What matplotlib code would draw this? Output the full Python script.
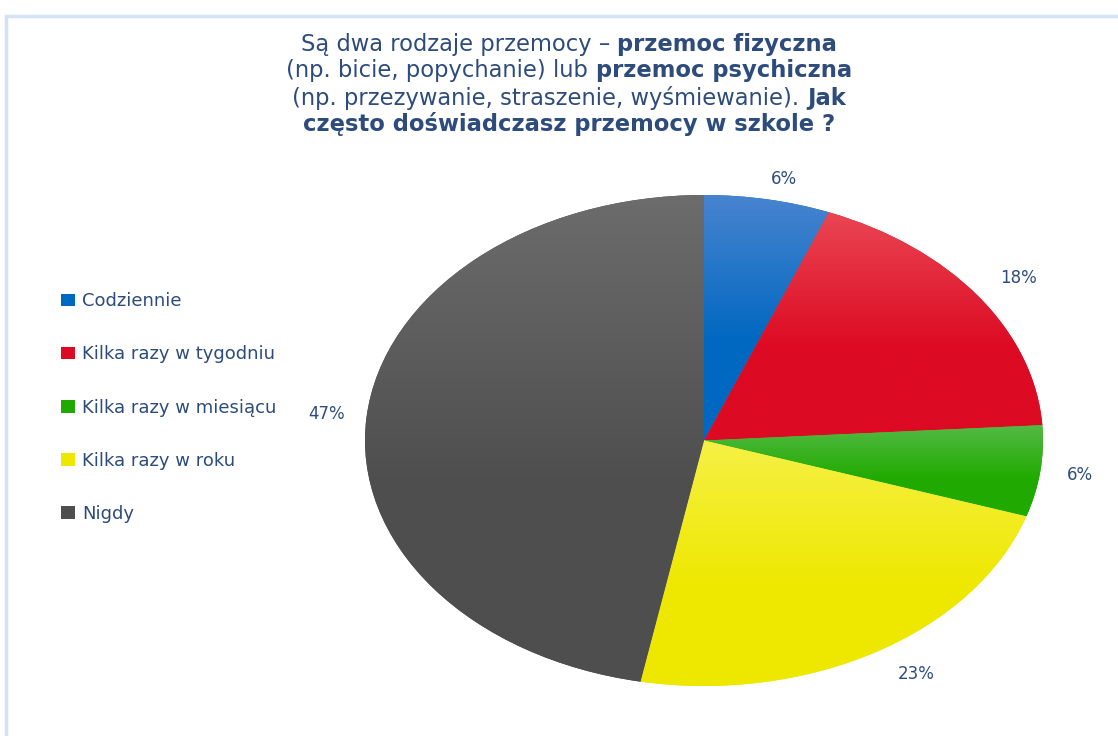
import numpy as np
import matplotlib
matplotlib.use("Agg")
import matplotlib.pyplot as plt
from matplotlib.patches import Rectangle, Patch

# data
categories = ["Codziennie", "Kilka razy w tygodniu", "Kilka razy w miesiącu",
              "Kilka razy w roku", "Nigdy"]
values = [6, 18, 6, 23, 47]
base_colors = ["#0068c0", "#dc0a22", "#20aa00", "#eee800", "#4e4e4e"]
top_colors = ["#4884d0", "#ea4654", "#54ba46", "#f6f046", "#6c6c6c"]

title_lines = [
    [("Są dwa rodzaje przemocy – ", "normal"), ("przemoc fizyczna", "bold")],
    [("(np. bicie, popychanie) lub ", "normal"), ("przemoc psychiczna", "bold")],
    [("(np. przezywanie, straszenie, wyśmiewanie). ", "normal"), ("Jak", "bold")],
    [("często doświadczasz przemocy w szkole ?", "bold")],
]

TXT = "#2d4c7c"
plt.rcParams['font.family'] = ['DejaVu Sans']

fig = plt.figure(figsize=(11.18, 7.36), dpi=100)
W, H = 1118, 736

# light frame around chart area
fig.patches.append(Rectangle((6 / W, -0.1), 1.2, 1 - 16 / H + 0.1, transform=fig.transFigure,
                             fill=False, edgecolor="#d3e2f4", linewidth=2.5))

# pie axes placed on the (stretched) ellipse
ax = fig.add_axes([365 / W, 50 / H, 678 / W, 491 / H])
wedges, texts = ax.pie(values, colors=base_colors, startangle=90, counterclock=False,
                       radius=1.0, wedgeprops=dict(linewidth=0))

def rgb(h):
    return np.array(matplotlib.colors.to_rgb(h))

# vertical gradient inside each slice (lighter at the top)
for w, c_top, c_bot in zip(wedges, top_colors, base_colors):
    ext = w.get_path().get_extents()
    t = np.linspace(0, 1, 200)[:, None]
    t = np.clip(t / 0.6, 0, 1)
    grad = (1 - t) * rgb(c_top) + t * rgb(c_bot)
    img = ax.imshow(grad[:, None, :], extent=(ext.x0, ext.x1, ext.y0, ext.y1),
                    origin="upper", aspect="auto", zorder=2, interpolation="bilinear")
    img.set_clip_path(w)

# percent labels just outside the rim
cum = np.cumsum([0] + values[:-1])
total = float(sum(values))
for v, c0 in zip(values, cum):
    ang = np.deg2rad(90 - (c0 + v / 2) / total * 360)
    c, s = np.cos(ang), np.sin(ang)
    dx = 40 * c / max(abs(c), 0.45)
    dy = 0.75 * (24 + 20 * abs(c)) * s
    ax.annotate(f"{v / total * 100:.0f}%", (c, s), xytext=(dx, dy),
                textcoords="offset pixels", ha="center", va="center",
                color=TXT, fontsize=12, zorder=5)

ax.set_aspect("auto")
ax.set_xlim(-1, 1)
ax.set_ylim(-1, 1)
ax.axis("off")

# legend on the left
handles = [Patch(facecolor=c, edgecolor="none") for c in base_colors]
leg = fig.legend(handles, categories, loc="upper left", bbox_to_anchor=(45 / W, 1 - 276 / H),
                 frameon=False, fontsize=13, labelcolor=TXT, handlelength=0.75,
                 handleheight=0.7, handletextpad=0.4, labelspacing=1.95)

# title with mixed bold segments, centred per line
fig.canvas.draw()
rend = fig.canvas.get_renderer()
cx = 569
line_y = [44, 71, 98, 124]
for segs, y in zip(title_lines, line_y):
    objs = []
    for s, wgt in segs:
        objs.append(fig.text(0, 1 - y / H, s, fontsize=16.3, fontweight=wgt, color=TXT,
                             ha="left", va="center"))
    widths = [o.get_window_extent(rend).width for o in objs]
    x = cx - sum(widths) / 2
    for o, wd in zip(objs, widths):
        o.set_x(x / W)
        x += wd

fig.savefig("out.png", dpi=100)
